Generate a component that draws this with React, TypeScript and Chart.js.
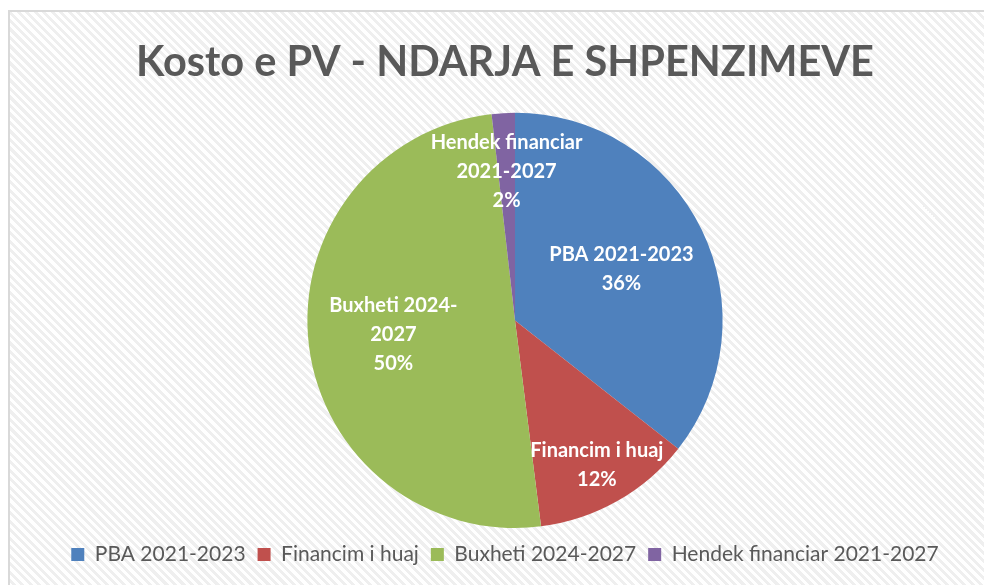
import React, { useEffect, useRef } from "react";
import { Chart, registerables } from "chart.js";

Chart.register(...registerables);

const categories = ["PBA 2021-2023", "Financim i huaj", "Buxheti 2024-2027", "Hendek financiar 2021-2027"];
const values = [35.6, 12.4, 50.2, 1.8];
const colors = ["#4F81BD", "#C0504D", "#9BBB59", "#8064A2"];
const labelLines = [
  ["PBA 2021-2023"],
  ["Financim i huaj"],
  ["Buxheti 2024-", "2027"],
  ["Hendek financiar", "2021-2027"],
];
const labelRadius = [0.57, 0.8, 0.59, 0.72];
const titleText = "Kosto e PV - NDARJA E SHPENZIMEVE";

const FONT = "Lato, 'Open Sans', sans-serif";

const shiftPlugin = {
  id: "shiftPie",
  afterLayout(chart: any) {
    const ca = chart.chartArea;
    ca.left += 20;
    ca.width = ca.right - ca.left;
    ca.bottom -= 4;
    ca.height = ca.bottom - ca.top;
  },
};

const labelPlugin = {
  id: "sliceLabels",
  afterDatasetsDraw(chart: any) {
    const ctx = chart.ctx;
    const meta = chart.getDatasetMeta(0);
    const total = values.reduce((a, b) => a + b, 0);
    ctx.save();
    ctx.fillStyle = "#ffffff";
    ctx.font = "bold 20px " + FONT;
    ctx.textAlign = "center";
    ctx.textBaseline = "middle";
    meta.data.forEach((arc: any, i: number) => {
      const p = arc.getProps(["x", "y", "startAngle", "endAngle", "outerRadius"], true);
      const mid = (p.startAngle + p.endAngle) / 2;
      const r = p.outerRadius * labelRadius[i];
      const cx = p.x + Math.cos(mid) * r;
      const cy = p.y + Math.sin(mid) * r;
      const lines = [...labelLines[i], Math.round((values[i] / total) * 100) + "%"];
      const lh = 29;
      const y0 = cy - ((lines.length - 1) * lh) / 2;
      lines.forEach((t, k) => ctx.fillText(t, cx, y0 + k * lh));
    });
    ctx.restore();
  },
};

export default function App() {
  const ref = useRef<HTMLCanvasElement>(null);
  useEffect(() => {
    const chart = new Chart(ref.current!, {
      type: "pie",
      data: {
        labels: categories,
        datasets: [
          {
            data: values,
            backgroundColor: colors,
            borderWidth: 0,
          },
        ],
      },
      options: {
        animation: false,
        responsive: true,
        maintainAspectRatio: false,
        layout: { padding: { left: 0, right: 0, top: 0, bottom: 12 } },
        plugins: {
          title: {
            display: true,
            text: titleText,
            color: "#595959",
            font: { family: FONT, size: 41.5, weight: "bold", lineHeight: 1.2 },
            padding: { top: 26, bottom: 25 },
          },
          legend: {
            position: "bottom",
            labels: {
              color: "#595959",
              font: { family: FONT, size: 21 },
              boxWidth: 13,
              boxHeight: 13,
              padding: 12,
            },
          },
          tooltip: { enabled: false },
        },
      },
      plugins: [shiftPlugin, labelPlugin],
    });
    return () => chart.destroy();
  }, []);

  return (
    <div
      style={{
        position: "absolute",
        left: 8,
        top: 10,
        width: 976,
        height: 575,
        overflow: "hidden",
        borderTop: "2px solid #d9d9d9",
        borderLeft: "2px solid #d9d9d9",
        background:
          "repeating-linear-gradient(45deg, #ffffff 0px, #ffffff 3px, #efefef 3px, #efefef 6px)",
      }}
    >
      <div style={{ position: "relative", width: 990, height: 575 }}>
        <canvas ref={ref} />
      </div>
    </div>
  );
}
